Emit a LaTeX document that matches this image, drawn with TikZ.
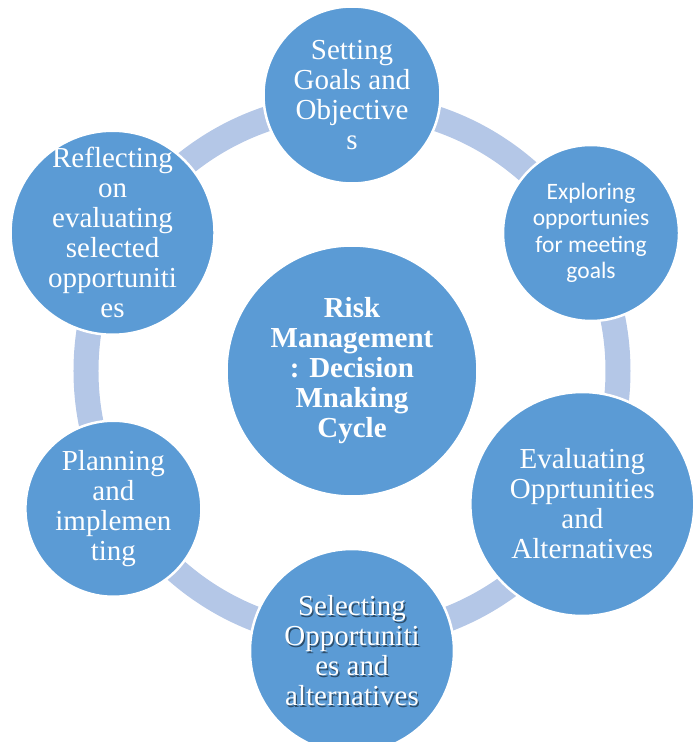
\documentclass[tikz,border=0pt]{standalone}
\usepackage{fontspec}
\setmainfont{Liberation Serif}
\newfontfamily\calibrifont{Carlito}
\usepackage{xcolor}
\definecolor{cycleblue}{HTML}{5B9BD5}
\definecolor{ringblue}{HTML}{B4C7E7}
\newcommand\stagefont{\fontsize{29}{30}\selectfont}
\tikzset{
    stage/.style ={circle, fill=cycleblue, draw=white, line width=2.5pt, minimum size=#1,
        inner sep=-20pt, text=white, align=center, font=\stagefont},
    ring/.style = {ringblue, line width=25pt},
    textshadow/.style = {path picture={
        \node[rectangle, draw=none, fill=none, minimum size=0pt, inner sep=0pt, align=center,
            text=black, text opacity=.5, font=\stagefont]
            at ([shift={(1.3pt,-1.3pt)}]path picture bounding box.center) {#1};}}
}

\begin{document}
\begin{tikzpicture}[x=1pt,y=1pt]
    \useasboundingbox (-352,-371) rectangle (342,371);
    \draw[ring] (0,0) circle (266);

    \node[stage=251, font=\bfseries\stagefont] (core) at (0,0) {Risk\\Management\\: Decision\\Mnaking\\Cycle};
    \node[stage=177] (goals) at (90:276) {Setting\\Goals and\\Objective\\s};
    \node[stage=176, font=\calibrifont\fontsize{23.5}{26.5}\selectfont] (explore) at (30:276) {Exploring\\opportunies\\for meeting\\goals};
    \node[stage=224] (evaluate) at (-30:266) {Evaluating\\Opprtunities\\and\\Alternatives};
    \node[stage=204, textshadow={Selecting\\Opportuniti\\es and\\alternatives}] (select) at (-90:280) {Selecting\\Opportuniti\\es and\\alternatives};
    \node[stage=176] (plan) at (210:275.5) {Planning\\and\\implemen\\ting};
    \node[stage=204] (reflect) at (150:276.5) {Reflecting\\on\\evaluating\\selected\\opportuniti\\es};
\end{tikzpicture}
\end{document}
